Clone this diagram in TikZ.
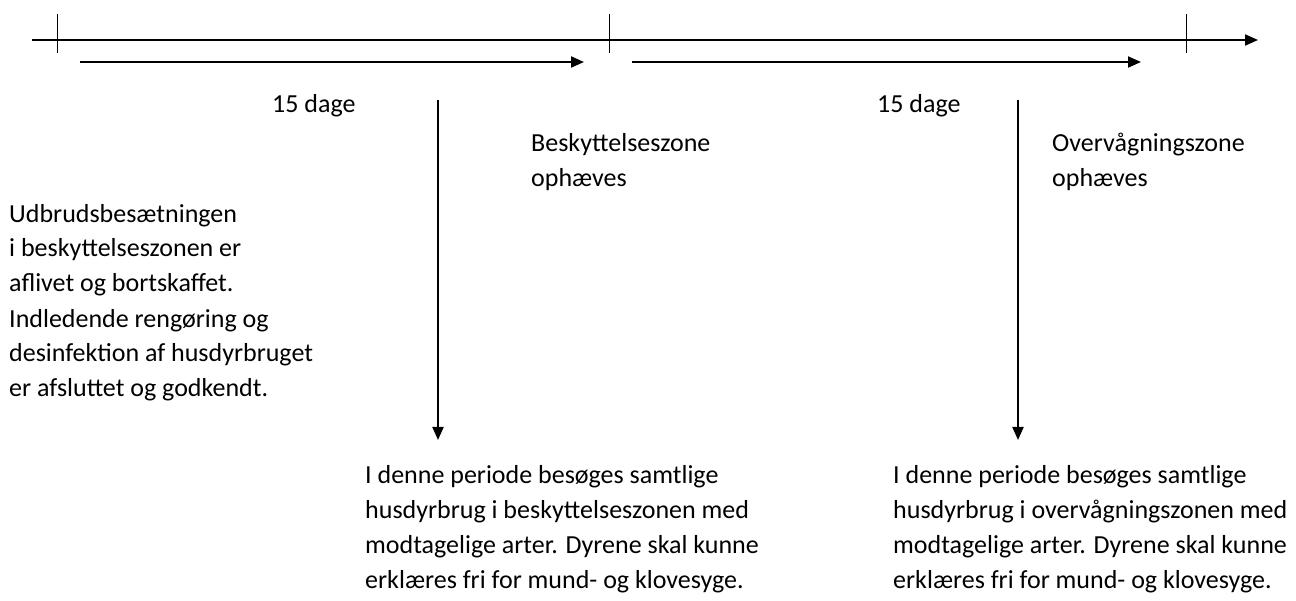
\documentclass[tikz,border=0pt]{standalone}
\usepackage{fontspec}
\setmainfont{Carlito}
\usetikzlibrary{arrows.meta}

\begin{document}
\begin{tikzpicture}[
  x=1pt,y=-1pt,
  axis/.style={line width=2pt,-{Triangle[length=13pt,width=11pt]}},
  period/.style={line width=2pt,-{Triangle[length=13pt,width=11pt]}},
  mark line/.style={line width=1pt},
  txt/.style={anchor=base west,align=left,inner sep=0pt,
    font=\fontsize{26}{35}\selectfont}
]
  \useasboundingbox (0,0) rectangle (1296,601);
  % time axis with the three dates
  \coordinate (start) at (32,40);
  \coordinate (end) at (1258,40);
  \draw[axis] (start) -- (end);
  \foreach \x/\name in {57/t0,609/t1,1186/t2}
    \draw[mark line] (\x,14) coordinate (\name top) -- (\x,53) coordinate (\name bottom);
  % the two periods of 15 days
  \coordinate (p1a) at (80,62);
  \coordinate (p1b) at (584,62);
  \coordinate (p2a) at (632,62);
  \coordinate (p2b) at (1141,62);
  \draw[period] (p1a) -- (p1b);
  \draw[period] (p2a) -- (p2b);
  \node[txt] (dage1) at (272,113) {15 dage};
  \node[txt] (dage2) at (877,113) {15 dage};
  % visits in the zones (base = last line)
  \coordinate (v1a) at (438,100);
  \coordinate (v1b) at (438,440);
  \coordinate (v2a) at (1018,100);
  \coordinate (v2b) at (1018,440);
  \draw[period] (v1a) -- (v1b);
  \draw[period] (v2a) -- (v2b);
  \node[txt] (besk) at (531,187) {Beskyttelseszone\\ophæves};
  \node[txt] (overv) at (1052,187) {Overvågningszone\\ophæves};
  \node[txt] (udbrud) at (9,397) {Udbrudsbesætningen\\i beskyttelseszonen er\\aflivet og bortskaffet.\\Indledende rengøring og\\desinfektion af husdyrbruget\\er afsluttet og godkendt.};
  \node[txt] (besoeg1) at (365,588) {I denne periode besøges samtlige\\husdyrbrug i beskyttelseszonen med\\modtagelige arter. Dyrene skal kunne\\erklæres fri for mund- og klovesyge.};
  \node[txt] (besoeg2) at (893,588) {I denne periode besøges samtlige\\husdyrbrug i overvågningszonen med\\modtagelige arter. Dyrene skal kunne\\erklæres fri for mund- og klovesyge.};
\end{tikzpicture}
\end{document}
